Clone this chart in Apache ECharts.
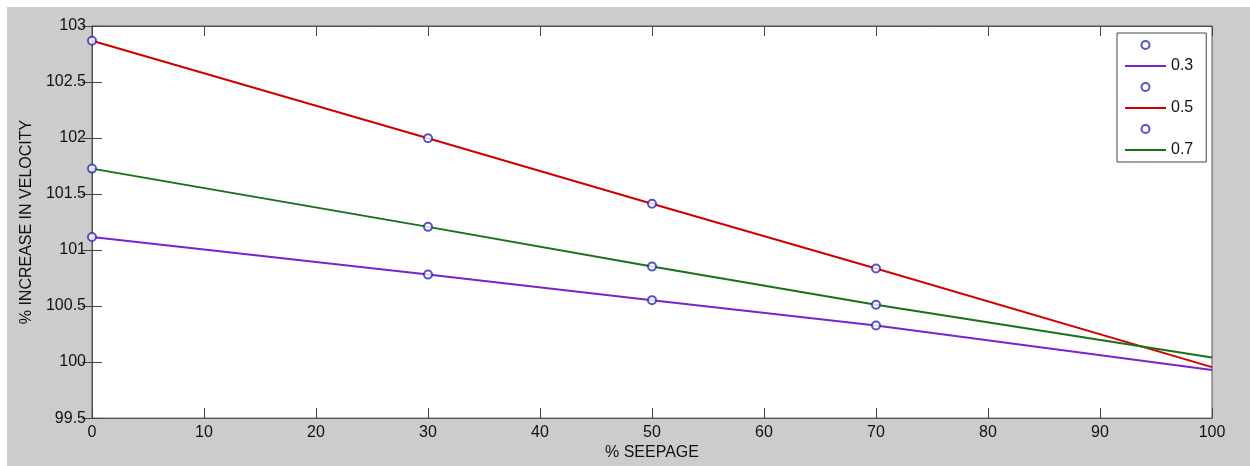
<!DOCTYPE html>
<html>
<head>
<meta charset="utf-8">
<script src="https://cdn.jsdelivr.net/npm/echarts@6/dist/echarts.min.js"></script>
<style>
html,body{margin:0;padding:0;background:#ffffff;}
#c{position:absolute;left:7px;top:7px;width:1243px;height:459px;background:#cccccc;}
</style>
</head>
<body>
<div id="c"></div>
<script>
// Measured points (% seepage) and values (% increase in velocity)
const seepage = [0, 30, 50, 70];
const meas03 = [101.117, 100.781, 100.553, 100.326];
const meas05 = [102.868, 101.998, 101.413, 100.835];
const meas07 = [101.727, 101.207, 100.853, 100.511];
// Fitted lines
const fitX = [0, 30, 50, 70, 100];
const fit03 = [101.117, 100.781, 100.553, 100.326, 99.93];
const fit05 = [102.868, 101.998, 101.413, 100.835, 99.955];
const fit07 = [101.727, 101.207, 100.853, 100.511, 100.04];
const lineNames = ['0.3', '0.5', '0.7'];
const markerNames = [' ', '  ', '   '];
const xTicks = {min: 0, max: 100, interval: 10};
const yTicks = {min: 99.5, max: 103, interval: 0.5};

const font = '"Liberation Sans", Arial, sans-serif';
const pair = (xs, ys) => xs.map((x, i) => [x, ys[i]]);
const lineColors = ['#7a22cc', '#d10000', '#187018'];
const markerColor = '#2a2ab8';
const fits = [fit03, fit05, fit07];
const meas = [meas03, meas05, meas07];

const series = [];
for (let i = 0; i < 3; i++) {
  series.push({
    name: markerNames[i], type: 'scatter', data: pair(seepage, meas[i]),
    symbol: 'emptyCircle', symbolSize: 8, z: 5,
    itemStyle: {color: markerColor, borderWidth: 1}
  });
  series.push({
    name: lineNames[i], type: 'line', data: pair(fitX, fits[i]),
    showSymbol: false, symbol: 'none', z: 3,
    lineStyle: {color: lineColors[i], width: 2},
    itemStyle: {color: lineColors[i]}
  });
}

const lineIcon = 'path://M0,0 L41,0 L41,2 L0,2 Z';
const axisCommon = {
  axisLine: {show: true, lineStyle: {color: '#555555', width: 1}},
  axisTick: {show: true, inside: true, length: 10, lineStyle: {color: '#444444'}},
  splitLine: {show: false}
};
const labelStyle = {fontFamily: font, fontSize: 16, color: '#111111', margin: 6};

const chart = echarts.init(document.getElementById('c'), null, {renderer: 'canvas'});
chart.setOption({
  animation: false,
  backgroundColor: '#cccccc',
  textStyle: {fontFamily: font},
  grid: {left: 85, right: 38, top: 19, bottom: 43, show: true,
         backgroundColor: '#ffffff', borderColor: '#555555', borderWidth: 1},
  legend: {
    orient: 'vertical', left: 1110, top: 26,
    backgroundColor: '#ffffff', borderColor: '#444444', borderWidth: 1,
    padding: [4, 13, 4, 8], itemWidth: 41, itemHeight: 8, itemGap: 5,
    textStyle: {fontFamily: font, fontSize: 16, color: '#111111'},
    data: [
      {name: markerNames[0], icon: 'emptyCircle'}, {name: lineNames[0], icon: lineIcon},
      {name: markerNames[1], icon: 'emptyCircle'}, {name: lineNames[1], icon: lineIcon},
      {name: markerNames[2], icon: 'emptyCircle'}, {name: lineNames[2], icon: lineIcon}
    ]
  },
  xAxis: [
    Object.assign({type: 'value', position: 'bottom', min: xTicks.min, max: xTicks.max, interval: xTicks.interval,
      name: '% SEEPAGE', nameLocation: 'middle', nameGap: 22,
      nameTextStyle: {fontFamily: font, fontSize: 16, color: '#111111'},
      axisLabel: labelStyle}, axisCommon),
    Object.assign({type: 'value', position: 'top', min: xTicks.min, max: xTicks.max, interval: xTicks.interval,
      axisLabel: {show: false}}, axisCommon)
  ],
  yAxis: [
    Object.assign({type: 'value', position: 'left', min: yTicks.min, max: yTicks.max, interval: yTicks.interval,
      name: '% INCREASE IN VELOCITY', nameLocation: 'middle', nameGap: 54,
      nameTextStyle: {fontFamily: font, fontSize: 16, color: '#111111'},
      axisLabel: labelStyle}, axisCommon),
    Object.assign({type: 'value', position: 'right', min: yTicks.min, max: yTicks.max, interval: yTicks.interval,
      axisLabel: {show: false}}, axisCommon)
  ],
  series: series
});
</script>
</body>
</html>
